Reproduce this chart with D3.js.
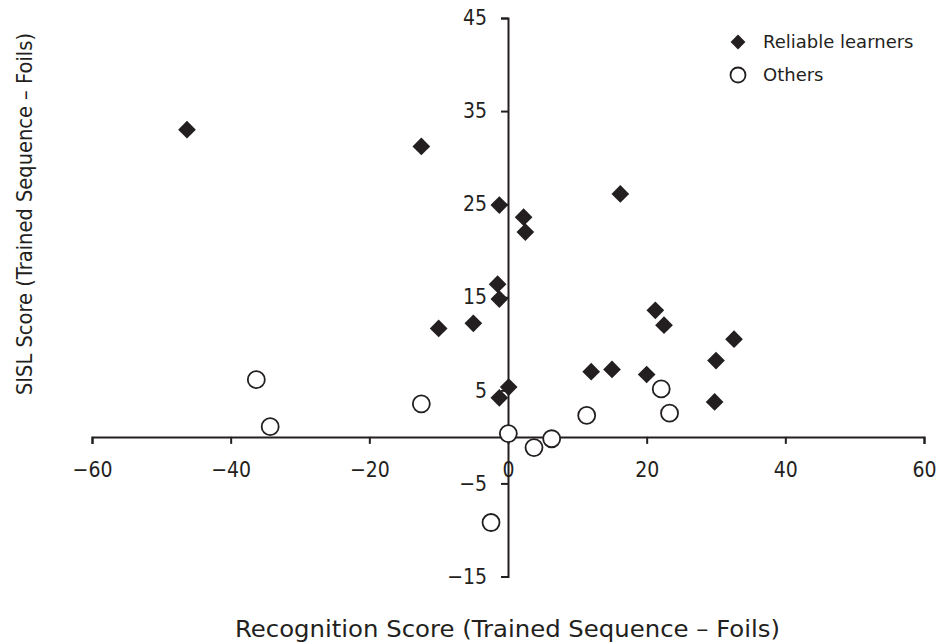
<!DOCTYPE html>
<html>
<head>
  <meta charset="utf-8">
  <script src="https://d3js.org/d3.v7.min.js"></script>
  <style>
  body { margin: 0; background: #fff; }
  text { font-family: "DejaVu Sans", Verdana, sans-serif; fill: #231f20; }
  </style>
</head>
<body>
<div id="chart"></div>
<script>
// reliable learners (filled diamonds)
var reliableX = [-46.3, -12.5, -1.25, 2.25, 2.5, 16.2, -1.5, -1.25, -10, -5.0, 0.1, -1.25, 12.0, 15.0, 21.25, 22.5, 20.0, 32.6, 30.0, 29.8];
var reliableY = [33.0, 31.2, 24.9, 23.6, 22.0, 26.1, 16.4, 14.8, 11.65, 12.2, 5.35, 4.2, 7.0, 7.25, 13.6, 12.0, 6.7, 10.5, 8.2, 3.75];
// others (open circles)
var othersX = [-12.5, 0.05, 3.75, 6.3, 11.35, 22.1, 23.3, -36.3, -34.3, -2.45];
var othersY = [3.55, 0.35, -1.15, -0.2, 2.3, 5.15, 2.55, 6.15, 1.1, -9.2];

var xTicks = [-60, -40, -20, 0, 20, 40, 60];
var yTicks = [-15, -5, 5, 15, 25, 35, 45];
var seriesNames = ["Reliable learners", "Others"];

var W = 937, H = 642;
var INK = "#231f20";

var svg = d3.select("#chart").append("svg")
  .attr("width", W)
  .attr("height", H);

var x = d3.scaleLinear().domain([-60, 60]).range([92, 924]);
var y = d3.scaleLinear().domain([-15, 45]).range([576.5, 18]);

function fmt(d){ return d < 0 ? "\u2212" + Math.abs(d) : d; }

// x axis crosses at y = 0
var xAxis = svg.append("g")
  .attr("transform", "translate(0," + y(0) + ")")
  .call(d3.axisBottom(x).tickValues(xTicks).tickSize(7).tickPadding(18).tickFormat(fmt));

// y axis crosses at x = 0
var yAxis = svg.append("g")
  .attr("transform", "translate(" + x(0) + ",0)")
  .call(d3.axisLeft(y).tickValues(yTicks).tickSize(7).tickPadding(14).tickFormat(fmt));

[xAxis, yAxis].forEach(function(a){
  a.select(".domain").attr("stroke", INK).attr("stroke-width", 2);
  a.selectAll(".tick line").attr("stroke", INK).attr("stroke-width", 2);
  a.selectAll(".tick text").attr("fill", INK)
    .style("font-size", "21px")
    .style("font-family", "'DejaVu Sans Condensed', 'DejaVu Sans', sans-serif");
});

var diamond = d3.symbol().type(d3.symbolDiamond2).size(200);

svg.append("g").selectAll("path")
  .data(d3.range(reliableX.length))
  .enter().append("path")
  .attr("d", diamond)
  .attr("transform", function(i){ return "translate(" + x(reliableX[i]) + "," + y(reliableY[i]) + ")"; })
  .attr("fill", INK);

svg.append("g").selectAll("circle")
  .data(d3.range(othersX.length))
  .enter().append("circle")
  .attr("cx", function(i){ return x(othersX[i]); })
  .attr("cy", function(i){ return y(othersY[i]); })
  .attr("r", 8.5)
  .attr("fill", "#fff")
  .attr("stroke", INK)
  .attr("stroke-width", 1.8);

// legend
var leg = svg.append("g").attr("transform", "translate(738,42)");
leg.append("path").attr("d", d3.symbol().type(d3.symbolDiamond2).size(140)).attr("fill", INK);
leg.append("text").attr("x", 25).attr("y", 0).attr("dy", "0.35em")
  .style("font-size", "18px").text(seriesNames[0]);
leg.append("circle").attr("cx", 0).attr("cy", 33).attr("r", 7.5).attr("fill", "#fff")
  .attr("stroke", INK).attr("stroke-width", 1.8);
leg.append("text").attr("x", 25).attr("y", 33).attr("dy", "0.35em")
  .style("font-size", "18px").text(seriesNames[1]);

// axis titles
svg.append("text")
  .attr("x", 507.5).attr("y", 637)
  .attr("text-anchor", "middle")
  .style("font-size", "23px")
  .attr("textLength", 545)
  .attr("lengthAdjust", "spacingAndGlyphs")
  .text("Recognition Score (Trained Sequence \u2013 Foils)");

svg.append("text")
  .attr("transform", "translate(32,214) rotate(-90)")
  .attr("text-anchor", "middle")
  .style("font-size", "21px")
  .attr("textLength", 362)
  .attr("lengthAdjust", "spacingAndGlyphs")
  .text("SISL Score (Trained Sequence \u2013 Foils)");
</script>
</body>
</html>
